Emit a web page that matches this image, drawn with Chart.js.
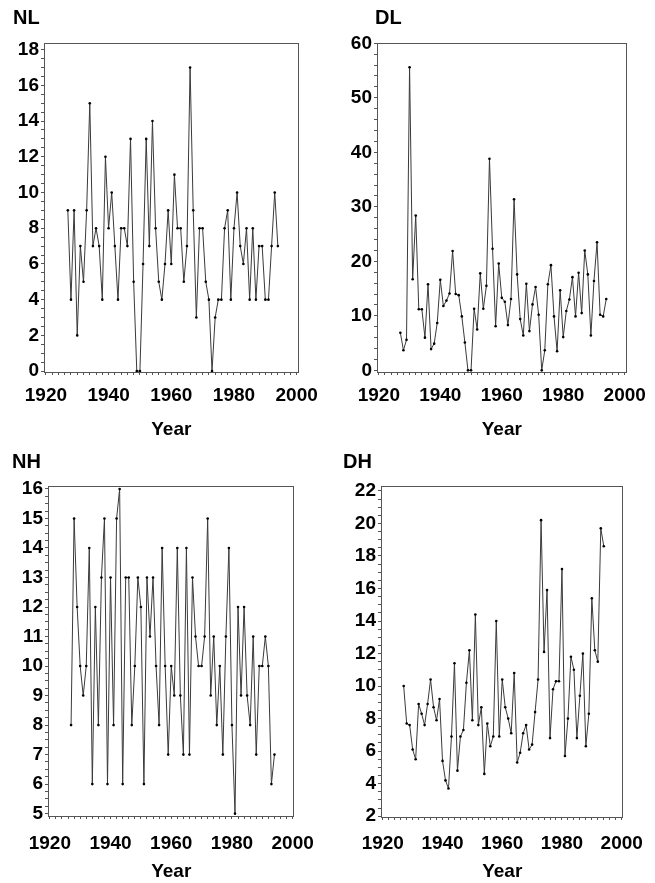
<!DOCTYPE html>
<html>
<head>
<meta charset="utf-8">
<script src="https://cdn.jsdelivr.net/npm/chart.js@4.4.1/dist/chart.umd.min.js"></script>
<style>
    body { margin: 0; background: #fff; }
    #lienzo { position: relative; width: 655px; height: 883px; }
    .panel { position: absolute; }
    .nombre { position: absolute; font: bold 20px "Liberation Sans", Arial, sans-serif; line-height: 24px; color: #000; }
</style>
</head>
<body>
<div id="lienzo">
    <canvas class="panel" id="gNL" width="327" height="441" style="left:0;top:0"></canvas>
    <canvas class="panel" id="gDL" width="328" height="441" style="left:327px;top:0"></canvas>
    <canvas class="panel" id="gNH" width="327" height="442" style="left:0;top:441px"></canvas>
    <canvas class="panel" id="gDH" width="328" height="442" style="left:327px;top:441px"></canvas>
    <div class="nombre" style="left:13px;top:5px">NL</div>
    <div class="nombre" style="left:375px;top:5px">DL</div>
    <div class="nombre" style="left:12px;top:449px">NH</div>
    <div class="nombre" style="left:343px;top:449px">DH</div>
</div>
<script>
// 1. DATOS
const anios = [1927, 1928, 1929, 1930, 1931, 1932, 1933, 1934, 1935, 1936,
    1937, 1938, 1939, 1940, 1941, 1942, 1943, 1944, 1945, 1946,
    1947, 1948, 1949, 1950, 1951, 1952, 1953, 1954, 1955, 1956,
    1957, 1958, 1959, 1960, 1961, 1962, 1963, 1964, 1965, 1966,
    1967, 1968, 1969, 1970, 1971, 1972, 1973, 1974, 1975, 1976,
    1977, 1978, 1979, 1980, 1981, 1982, 1983, 1984, 1985, 1986,
    1987, 1988, 1989, 1990, 1991, 1992, 1993, 1994];

const serieNL = [9, 4, 9, 2, 7, 5, 9, 15, 7, 8,
    7, 4, 12, 8, 10, 7, 4, 8, 8, 7,
    13, 5, 0, 0, 6, 13, 7, 14, 8, 5,
    4, 6, 9, 6, 11, 8, 8, 5, 7, 17,
    9, 3, 8, 8, 5, 4, 0, 3, 4, 4,
    8, 9, 4, 8, 10, 7, 6, 8, 4, 8,
    4, 7, 7, 4, 4, 7, 10, 7];

const serieDL = [6.9, 3.7, 5.6, 55.6, 16.7, 28.4, 11.2, 11.2, 6.0, 15.8,
    3.9, 4.9, 8.7, 16.6, 11.8, 12.8, 14.1, 21.9, 14.0, 13.8,
    9.9, 5.1, 0, 0, 11.3, 7.5, 17.8, 11.3, 15.5, 38.8,
    22.3, 8.1, 19.6, 13.3, 12.6, 8.3, 13.1, 31.4, 17.6, 9.4,
    6.4, 15.9, 7.2, 12.1, 15.3, 10.2, 0, 3.7, 15.8, 19.3,
    9.9, 3.5, 14.7, 6.1, 10.9, 13.0, 17.1, 9.9, 17.9, 10.5,
    22.0, 17.6, 6.4, 16.4, 23.5, 10.2, 9.9, 13.1];

const serieNH = [8, 15, 12, 10, 9, 10, 14, 6, 12, 8,
    13, 15, 6, 13, 8, 15, 16, 6, 13, 13,
    8, 10, 13, 12, 6, 13, 11, 13, 10, 8,
    14, 10, 7, 10, 9, 14, 9, 7, 14, 7,
    13, 11, 10, 10, 11, 15, 9, 11, 8, 10,
    7, 11, 14, 8, 5, 12, 9, 12, 9, 8,
    11, 7, 10, 10, 11, 10, 6, 7];

const serieDH = [10.0, 7.7, 7.6, 6.1, 5.5, 8.9, 8.3, 7.6, 8.9, 10.4,
    8.7, 7.9, 9.2, 5.4, 4.2, 3.7, 6.9, 11.4, 4.8, 6.9,
    7.3, 10.2, 12.2, 7.9, 14.4, 7.6, 8.7, 4.6, 7.7, 6.3,
    6.9, 14.0, 6.9, 10.4, 8.7, 8.0, 7.1, 10.8, 5.3, 5.9,
    7.1, 7.6, 6.1, 6.4, 8.4, 10.4, 20.2, 12.1, 15.9, 6.8,
    9.8, 10.3, 10.3, 17.2, 5.7, 8.0, 11.8, 11.0, 6.8, 9.4,
    12.0, 6.3, 8.3, 15.4, 12.2, 11.5, 19.7, 18.6];

// Etiquetas de los ejes
const etiquetasX = [1920, 1940, 1960, 1980, 2000];
const etiquetasNL = [0, 2, 4, 6, 8, 10, 12, 14, 16, 18];
const etiquetasDL = [0, 10, 20, 30, 40, 50, 60];
const etiquetasNH = [5, 6, 7, 8, 9, 10, 11, 12, 13, 14, 15, 16];
const etiquetasDH = [2, 4, 6, 8, 10, 12, 14, 16, 18, 20, 22];

// 2. ESTILO GENERAL
const fuente = { family: '"Liberation Sans", Arial, sans-serif', size: 19, weight: 'bold' };
const colorEje = '#555';

// Marco completo alrededor del área de datos
const marco = {
    id: 'marco',
    afterDraw(chart) {
        const { ctx, chartArea: a } = chart;
        ctx.save();
        ctx.strokeStyle = colorEje;
        ctx.lineWidth = 1;
        ctx.strokeRect(Math.round(a.left) + 0.5, Math.round(a.top) + 0.5,
            Math.round(a.right - a.left) - 1, Math.round(a.bottom - a.top));
        ctx.restore();
    }
};

// Marcas menores: una cada "paso" entre las etiquetas
function marcas(desde, hasta, paso) {
    const lista = [];
    for (let v = desde; v <= hasta + 1e-9; v += paso) lista.push({ value: Math.round(v * 1000) / 1000 });
    return lista;
}

// 3. CREACIÓN DE CADA PANEL
function crearPanel(id, serie, cfg) {
    new Chart(document.getElementById(id), {
        type: 'line',
        data: {
            datasets: [{
                data: anios.map((a, i) => ({ x: a, y: serie[i] })),
                borderColor: '#3a3a3a',
                borderWidth: 1,
                pointRadius: 1.3,
                pointBackgroundColor: '#000',
                pointBorderWidth: 0,
                tension: 0
            }]
        },
        options: {
            responsive: false,
            animation: false,
            events: [],
            layout: { padding: cfg.relleno },
            plugins: { legend: { display: false }, tooltip: { enabled: false } },
            scales: {
                x: {
                    type: 'linear',
                    min: 1919.4,
                    max: 2000.6,
                    afterFit: s => { s.height = cfg.altoX; },
                    afterBuildTicks: s => { s.ticks = marcas(1920, 2000, 2); },
                    ticks: {
                        autoSkip: false, maxRotation: 0, padding: cfg.sepX,
                        font: fuente, color: '#000',
                        callback: v => etiquetasX.includes(v) ? String(v) : ''
                    },
                    grid: { drawOnChartArea: false, tickLength: 3, color: colorEje },
                    border: { display: false },
                    title: { display: true, text: 'Year', font: fuente, color: '#000', padding: { top: 0, bottom: cfg.sepTitulo } }
                },
                y: {
                    min: cfg.min,
                    max: cfg.max,
                    afterFit: s => { s.width = cfg.anchoY; },
                    afterBuildTicks: s => { s.ticks = marcas(cfg.etiquetas[0], cfg.etiquetas[cfg.etiquetas.length - 1], cfg.pasoMenor); },
                    ticks: {
                        autoSkip: false, padding: 2,
                        font: fuente, color: '#000',
                        callback: v => cfg.etiquetas.includes(v) ? String(v) : ''
                    },
                    grid: { drawOnChartArea: false, tickLength: 3, color: colorEje },
                    border: { display: false }
                }
            }
        },
        plugins: [marco]
    });
}

crearPanel('gNL', serieNL, {
    relleno: { left: 0, top: 43, right: 27, bottom: 0 },
    anchoY: 44, altoX: 69, sepX: 9, sepTitulo: 0,
    min: -0.05, max: 18.37, etiquetas: etiquetasNL, pasoMenor: 0.5
});
crearPanel('gDL', serieDL, {
    relleno: { left: 0, top: 43, right: 23, bottom: 0 },
    anchoY: 50, altoX: 69, sepX: 9, sepTitulo: 0,
    min: -0.3, max: 60.05, etiquetas: etiquetasDL, pasoMenor: 2
});
crearPanel('gNH', serieNH, {
    relleno: { left: 0, top: 45, right: 28, bottom: 0 },
    anchoY: 48, altoX: 67, sepX: 13, sepTitulo: 0,
    min: 4.92, max: 16.1, etiquetas: etiquetasNH, pasoMenor: 0.25
});
crearPanel('gDH', serieDH, {
    relleno: { left: 0, top: 45, right: 23, bottom: 0 },
    anchoY: 54, altoX: 66, sepX: 12, sepTitulo: 0,
    min: 1.95, max: 22.3, etiquetas: etiquetasDH, pasoMenor: 0.5
});
</script>
</body>
</html>
